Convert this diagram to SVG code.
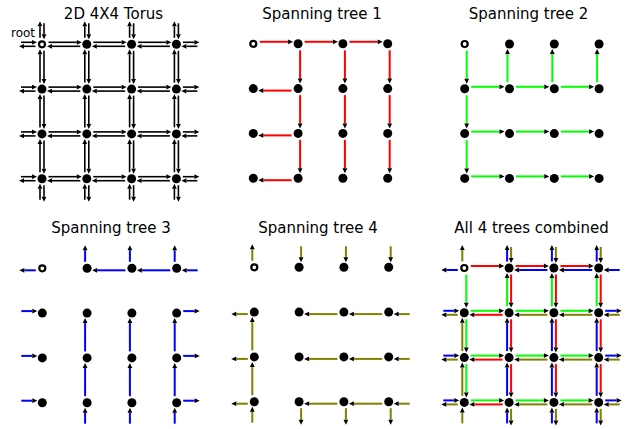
<svg xmlns="http://www.w3.org/2000/svg" width="627" height="429" viewBox="0 0 627 429">
<style>
text{font-family:"DejaVu Sans","Liberation Sans",sans-serif;fill:#000}
.t{font-size:15px;text-anchor:middle}
.lbl{font-size:12px}
.n{fill:#000}
.rt{fill:#fff;stroke:#000;stroke-width:2.2}
.e{fill:none;stroke-width:2;marker-end:url(#ah)}
.k{stroke:#000;stroke-width:1.6}
.red{stroke:#ff0000}
.grn{stroke:#00ff00}
.blu{stroke:#0000ff}
.olv{stroke:#808000}
</style>
<defs>
<marker id="ah" markerUnits="userSpaceOnUse" viewBox="0 -3 6 6" refX="0" refY="0" markerWidth="6" markerHeight="6" orient="auto" overflow="visible"><path d="M0,-2.4L5,0L0,2.4Z" fill="#000" stroke="none"/></marker>
<path id="aE" d="M6.5,-2H34.8"/>
<path id="aW" d="M-6.5,2H-34.8"/>
<path id="aS" d="M2,6.5V34.8"/>
<path id="aN" d="M-2,-6.5V-34.8"/>
<path id="oE" d="M6.5,-2H18"/>
<path id="oW" d="M-6.5,2H-18"/>
<path id="oS" d="M2,6.5V18"/>
<path id="oN" d="M-2,-6.5V-18"/>
<path id="iE" d="M-21,-2H-10"/>
<path id="iW" d="M21,2H10"/>
<path id="iS" d="M2,-21V-10"/>
<path id="iN" d="M-2,21V10"/>
<g id="t1">
<use href="#aE" x="0" y="0"/><use href="#aE" x="44.8" y="0"/><use href="#aE" x="89.6" y="0"/>
<use href="#aS" x="44.8" y="0"/><use href="#aS" x="44.8" y="44.8"/><use href="#aS" x="44.8" y="89.6"/>
<use href="#aW" x="44.8" y="44.8"/><use href="#aW" x="44.8" y="89.6"/><use href="#aW" x="44.8" y="134.4"/>
<use href="#aS" x="89.6" y="0"/><use href="#aS" x="89.6" y="44.8"/><use href="#aS" x="89.6" y="89.6"/>
<use href="#aS" x="134.4" y="0"/><use href="#aS" x="134.4" y="44.8"/><use href="#aS" x="134.4" y="89.6"/>
</g>
<g id="t2">
<use href="#aS" x="0" y="0"/><use href="#aS" x="0" y="44.8"/><use href="#aS" x="0" y="89.6"/>
<use href="#aE" x="0" y="44.8"/><use href="#aE" x="44.8" y="44.8"/><use href="#aE" x="89.6" y="44.8"/>
<use href="#aN" x="44.8" y="44.8"/><use href="#aN" x="89.6" y="44.8"/><use href="#aN" x="134.4" y="44.8"/>
<use href="#aE" x="0" y="89.6"/><use href="#aE" x="44.8" y="89.6"/><use href="#aE" x="89.6" y="89.6"/>
<use href="#aE" x="0" y="134.4"/><use href="#aE" x="44.8" y="134.4"/><use href="#aE" x="89.6" y="134.4"/>
</g>
<g id="t3">
<use href="#oW" x="0" y="0"/><use href="#iW" x="134.4" y="0"/>
<use href="#aW" x="134.4" y="0"/><use href="#aW" x="89.6" y="0"/>
<use href="#oN" x="44.8" y="0"/><use href="#oN" x="89.6" y="0"/><use href="#oN" x="134.4" y="0"/>
<use href="#iN" x="44.8" y="134.4"/><use href="#iN" x="89.6" y="134.4"/><use href="#iN" x="134.4" y="134.4"/>
<use href="#aN" x="44.8" y="134.4"/><use href="#aN" x="44.8" y="89.6"/>
<use href="#aN" x="89.6" y="134.4"/><use href="#aN" x="89.6" y="89.6"/>
<use href="#aN" x="134.4" y="134.4"/><use href="#aN" x="134.4" y="89.6"/>
<use href="#oE" x="134.4" y="44.8"/><use href="#oE" x="134.4" y="89.6"/><use href="#oE" x="134.4" y="134.4"/>
<use href="#iE" x="0" y="44.8"/><use href="#iE" x="0" y="89.6"/><use href="#iE" x="0" y="134.4"/>
</g>
<g id="t4">
<use href="#oN" x="0" y="0"/><use href="#iN" x="0" y="134.4"/>
<use href="#aN" x="0" y="134.4"/><use href="#aN" x="0" y="89.6"/>
<use href="#oW" x="0" y="44.8"/><use href="#oW" x="0" y="89.6"/><use href="#oW" x="0" y="134.4"/>
<use href="#iW" x="134.4" y="44.8"/><use href="#iW" x="134.4" y="89.6"/><use href="#iW" x="134.4" y="134.4"/>
<use href="#aW" x="134.4" y="44.8"/><use href="#aW" x="89.6" y="44.8"/>
<use href="#aW" x="134.4" y="89.6"/><use href="#aW" x="89.6" y="89.6"/>
<use href="#aW" x="134.4" y="134.4"/><use href="#aW" x="89.6" y="134.4"/>
<use href="#oS" x="44.8" y="134.4"/><use href="#oS" x="89.6" y="134.4"/><use href="#oS" x="134.4" y="134.4"/>
<use href="#iS" x="44.8" y="0"/><use href="#iS" x="89.6" y="0"/><use href="#iS" x="134.4" y="0"/>
</g>
<g id="tx">
<use href="#aW" x="44.8" y="0"/><use href="#aN" x="0" y="44.8"/>
<use href="#oE" x="134.4" y="0"/><use href="#iE" x="0" y="0"/>
<use href="#oS" x="0" y="134.4"/><use href="#iS" x="0" y="0"/>
</g>
</defs>
<rect width="627" height="429" fill="#fff"/>
<g id="titles">
<text class="t" x="113.5" y="19">2D 4X4 Torus</text>
<text class="t" x="322" y="19">Spanning tree 1</text>
<text class="t" x="528.5" y="19">Spanning tree 2</text>
<text class="t" x="111" y="233">Spanning tree 3</text>
<text class="t" x="318" y="233">Spanning tree 4</text>
<text class="t" x="531.5" y="233">All 4 trees combined</text>
<text class="lbl" x="11" y="37">root</text>
</g>
<g id="connectors">
<g transform="translate(42,44.3)" class="e k"><use href="#t1"/><use href="#t2"/><use href="#t3"/><use href="#t4"/><use href="#tx"/></g>
<g transform="translate(253.3,43.8)"><use href="#t1" class="e red"/></g>
<g transform="translate(464.7,44)"><use href="#t2" class="e grn"/></g>
<g transform="translate(42.3,268.3)"><use href="#t3" class="e blu"/></g>
<g transform="translate(254.3,267.3)"><use href="#t4" class="e olv"/></g>
<g transform="translate(464.3,268)"><use href="#t1" class="e red"/><use href="#t2" class="e grn"/><use href="#t3" class="e blu"/><use href="#t4" class="e olv"/></g>
</g>
<g id="nodes1" transform="translate(42,44.3)">
<g id="p1-0-0"><circle class="rt" cx="0" cy="0" r="3"/></g>
<g id="p1-1-0"><circle class="n" cx="44.8" cy="0" r="4.5"/></g>
<g id="p1-2-0"><circle class="n" cx="89.6" cy="0" r="4.5"/></g>
<g id="p1-3-0"><circle class="n" cx="134.4" cy="0" r="4.5"/></g>
<g id="p1-0-1"><circle class="n" cx="0" cy="44.8" r="4.5"/></g>
<g id="p1-1-1"><circle class="n" cx="44.8" cy="44.8" r="4.5"/></g>
<g id="p1-2-1"><circle class="n" cx="89.6" cy="44.8" r="4.5"/></g>
<g id="p1-3-1"><circle class="n" cx="134.4" cy="44.8" r="4.5"/></g>
<g id="p1-0-2"><circle class="n" cx="0" cy="89.6" r="4.5"/></g>
<g id="p1-1-2"><circle class="n" cx="44.8" cy="89.6" r="4.5"/></g>
<g id="p1-2-2"><circle class="n" cx="89.6" cy="89.6" r="4.5"/></g>
<g id="p1-3-2"><circle class="n" cx="134.4" cy="89.6" r="4.5"/></g>
<g id="p1-0-3"><circle class="n" cx="0" cy="134.4" r="4.5"/></g>
<g id="p1-1-3"><circle class="n" cx="44.8" cy="134.4" r="4.5"/></g>
<g id="p1-2-3"><circle class="n" cx="89.6" cy="134.4" r="4.5"/></g>
<g id="p1-3-3"><circle class="n" cx="134.4" cy="134.4" r="4.5"/></g>
</g>
<g id="nodes2" transform="translate(253.3,43.8)">
<g id="p2-0-0"><circle class="rt" cx="0" cy="0" r="3"/></g>
<g id="p2-1-0"><circle class="n" cx="44.8" cy="0" r="4.5"/></g>
<g id="p2-2-0"><circle class="n" cx="89.6" cy="0" r="4.5"/></g>
<g id="p2-3-0"><circle class="n" cx="134.4" cy="0" r="4.5"/></g>
<g id="p2-0-1"><circle class="n" cx="0" cy="44.8" r="4.5"/></g>
<g id="p2-1-1"><circle class="n" cx="44.8" cy="44.8" r="4.5"/></g>
<g id="p2-2-1"><circle class="n" cx="89.6" cy="44.8" r="4.5"/></g>
<g id="p2-3-1"><circle class="n" cx="134.4" cy="44.8" r="4.5"/></g>
<g id="p2-0-2"><circle class="n" cx="0" cy="89.6" r="4.5"/></g>
<g id="p2-1-2"><circle class="n" cx="44.8" cy="89.6" r="4.5"/></g>
<g id="p2-2-2"><circle class="n" cx="89.6" cy="89.6" r="4.5"/></g>
<g id="p2-3-2"><circle class="n" cx="134.4" cy="89.6" r="4.5"/></g>
<g id="p2-0-3"><circle class="n" cx="0" cy="134.4" r="4.5"/></g>
<g id="p2-1-3"><circle class="n" cx="44.8" cy="134.4" r="4.5"/></g>
<g id="p2-2-3"><circle class="n" cx="89.6" cy="134.4" r="4.5"/></g>
<g id="p2-3-3"><circle class="n" cx="134.4" cy="134.4" r="4.5"/></g>
</g>
<g id="nodes3" transform="translate(464.7,44)">
<g id="p3-0-0"><circle class="rt" cx="0" cy="0" r="3"/></g>
<g id="p3-1-0"><circle class="n" cx="44.8" cy="0" r="4.5"/></g>
<g id="p3-2-0"><circle class="n" cx="89.6" cy="0" r="4.5"/></g>
<g id="p3-3-0"><circle class="n" cx="134.4" cy="0" r="4.5"/></g>
<g id="p3-0-1"><circle class="n" cx="0" cy="44.8" r="4.5"/></g>
<g id="p3-1-1"><circle class="n" cx="44.8" cy="44.8" r="4.5"/></g>
<g id="p3-2-1"><circle class="n" cx="89.6" cy="44.8" r="4.5"/></g>
<g id="p3-3-1"><circle class="n" cx="134.4" cy="44.8" r="4.5"/></g>
<g id="p3-0-2"><circle class="n" cx="0" cy="89.6" r="4.5"/></g>
<g id="p3-1-2"><circle class="n" cx="44.8" cy="89.6" r="4.5"/></g>
<g id="p3-2-2"><circle class="n" cx="89.6" cy="89.6" r="4.5"/></g>
<g id="p3-3-2"><circle class="n" cx="134.4" cy="89.6" r="4.5"/></g>
<g id="p3-0-3"><circle class="n" cx="0" cy="134.4" r="4.5"/></g>
<g id="p3-1-3"><circle class="n" cx="44.8" cy="134.4" r="4.5"/></g>
<g id="p3-2-3"><circle class="n" cx="89.6" cy="134.4" r="4.5"/></g>
<g id="p3-3-3"><circle class="n" cx="134.4" cy="134.4" r="4.5"/></g>
</g>
<g id="nodes4" transform="translate(42.3,268.3)">
<g id="p4-0-0"><circle class="rt" cx="0" cy="0" r="3"/></g>
<g id="p4-1-0"><circle class="n" cx="44.8" cy="0" r="4.5"/></g>
<g id="p4-2-0"><circle class="n" cx="89.6" cy="0" r="4.5"/></g>
<g id="p4-3-0"><circle class="n" cx="134.4" cy="0" r="4.5"/></g>
<g id="p4-0-1"><circle class="n" cx="0" cy="44.8" r="4.5"/></g>
<g id="p4-1-1"><circle class="n" cx="44.8" cy="44.8" r="4.5"/></g>
<g id="p4-2-1"><circle class="n" cx="89.6" cy="44.8" r="4.5"/></g>
<g id="p4-3-1"><circle class="n" cx="134.4" cy="44.8" r="4.5"/></g>
<g id="p4-0-2"><circle class="n" cx="0" cy="89.6" r="4.5"/></g>
<g id="p4-1-2"><circle class="n" cx="44.8" cy="89.6" r="4.5"/></g>
<g id="p4-2-2"><circle class="n" cx="89.6" cy="89.6" r="4.5"/></g>
<g id="p4-3-2"><circle class="n" cx="134.4" cy="89.6" r="4.5"/></g>
<g id="p4-0-3"><circle class="n" cx="0" cy="134.4" r="4.5"/></g>
<g id="p4-1-3"><circle class="n" cx="44.8" cy="134.4" r="4.5"/></g>
<g id="p4-2-3"><circle class="n" cx="89.6" cy="134.4" r="4.5"/></g>
<g id="p4-3-3"><circle class="n" cx="134.4" cy="134.4" r="4.5"/></g>
</g>
<g id="nodes5" transform="translate(254.3,267.3)">
<g id="p5-0-0"><circle class="rt" cx="0" cy="0" r="3"/></g>
<g id="p5-1-0"><circle class="n" cx="44.8" cy="0" r="4.5"/></g>
<g id="p5-2-0"><circle class="n" cx="89.6" cy="0" r="4.5"/></g>
<g id="p5-3-0"><circle class="n" cx="134.4" cy="0" r="4.5"/></g>
<g id="p5-0-1"><circle class="n" cx="0" cy="44.8" r="4.5"/></g>
<g id="p5-1-1"><circle class="n" cx="44.8" cy="44.8" r="4.5"/></g>
<g id="p5-2-1"><circle class="n" cx="89.6" cy="44.8" r="4.5"/></g>
<g id="p5-3-1"><circle class="n" cx="134.4" cy="44.8" r="4.5"/></g>
<g id="p5-0-2"><circle class="n" cx="0" cy="89.6" r="4.5"/></g>
<g id="p5-1-2"><circle class="n" cx="44.8" cy="89.6" r="4.5"/></g>
<g id="p5-2-2"><circle class="n" cx="89.6" cy="89.6" r="4.5"/></g>
<g id="p5-3-2"><circle class="n" cx="134.4" cy="89.6" r="4.5"/></g>
<g id="p5-0-3"><circle class="n" cx="0" cy="134.4" r="4.5"/></g>
<g id="p5-1-3"><circle class="n" cx="44.8" cy="134.4" r="4.5"/></g>
<g id="p5-2-3"><circle class="n" cx="89.6" cy="134.4" r="4.5"/></g>
<g id="p5-3-3"><circle class="n" cx="134.4" cy="134.4" r="4.5"/></g>
</g>
<g id="nodes6" transform="translate(464.3,268)">
<g id="p6-0-0"><circle class="rt" cx="0" cy="0" r="3"/></g>
<g id="p6-1-0"><circle class="n" cx="44.8" cy="0" r="4.5"/></g>
<g id="p6-2-0"><circle class="n" cx="89.6" cy="0" r="4.5"/></g>
<g id="p6-3-0"><circle class="n" cx="134.4" cy="0" r="4.5"/></g>
<g id="p6-0-1"><circle class="n" cx="0" cy="44.8" r="4.5"/></g>
<g id="p6-1-1"><circle class="n" cx="44.8" cy="44.8" r="4.5"/></g>
<g id="p6-2-1"><circle class="n" cx="89.6" cy="44.8" r="4.5"/></g>
<g id="p6-3-1"><circle class="n" cx="134.4" cy="44.8" r="4.5"/></g>
<g id="p6-0-2"><circle class="n" cx="0" cy="89.6" r="4.5"/></g>
<g id="p6-1-2"><circle class="n" cx="44.8" cy="89.6" r="4.5"/></g>
<g id="p6-2-2"><circle class="n" cx="89.6" cy="89.6" r="4.5"/></g>
<g id="p6-3-2"><circle class="n" cx="134.4" cy="89.6" r="4.5"/></g>
<g id="p6-0-3"><circle class="n" cx="0" cy="134.4" r="4.5"/></g>
<g id="p6-1-3"><circle class="n" cx="44.8" cy="134.4" r="4.5"/></g>
<g id="p6-2-3"><circle class="n" cx="89.6" cy="134.4" r="4.5"/></g>
<g id="p6-3-3"><circle class="n" cx="134.4" cy="134.4" r="4.5"/></g>
</g>
</svg>
